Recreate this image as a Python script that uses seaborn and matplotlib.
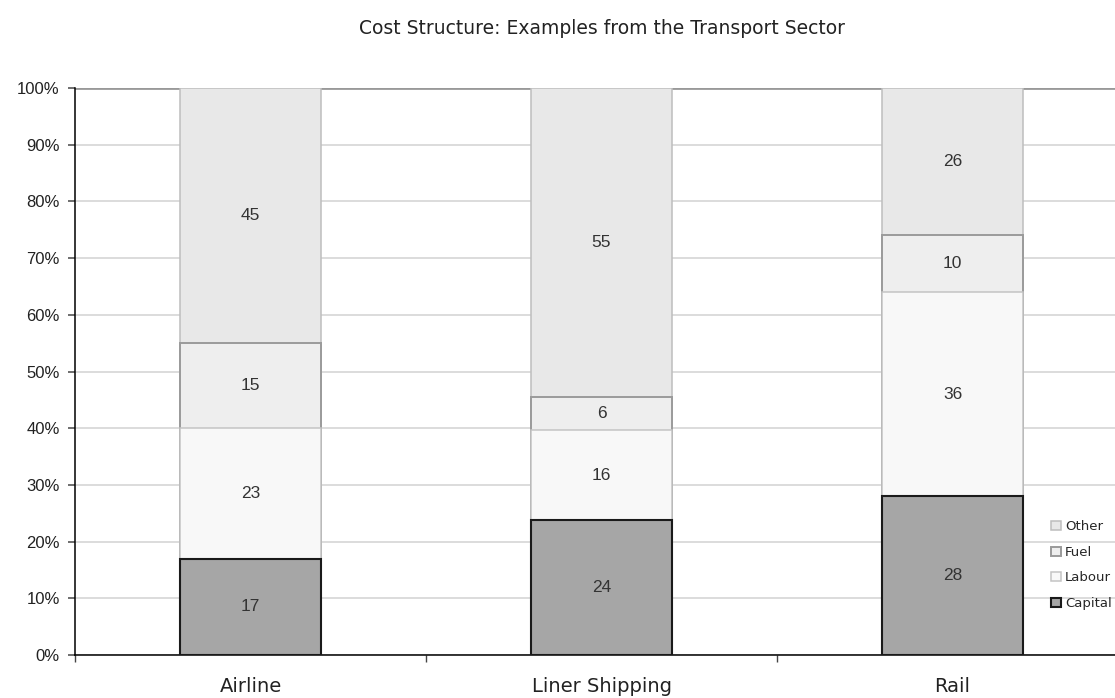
import numpy as np
import matplotlib
matplotlib.use("Agg")
import matplotlib.pyplot as plt
from matplotlib.ticker import FixedLocator, PercentFormatter
import seaborn as sns

# Cost shares by sector (raw figures; each bar is scaled to 100%)
categories = ["Airline", "Liner Shipping", "Rail"]
capital = [17, 24, 28]
labour = [23, 16, 36]
fuel = [15, 6, 10]
other = [45, 55, 26]

series_names = ["Capital", "Labour", "Fuel", "Other"]
series_values = [capital, labour, fuel, other]
face_colors = ["#a6a6a6", "#f8f8f8", "#eeeeee", "#e8e8e8"]
edge_colors = ["#1a1a1a", "#c4c4c4", "#9a9a9a", "#bdbdbd"]
edge_widths = [1.5, 1.1, 1.4, 1.1]

sns.set_theme(style="white")
plt.rcParams["font.family"] = ["Liberation Sans", "DejaVu Sans"]

fig = plt.figure(figsize=(11.15, 6.98), dpi=100)
ax = fig.add_axes([75 / 1115, 43 / 698, 1053 / 1115, 567 / 698])

vals = np.array(series_values, dtype=float)
totals = vals.sum(axis=0)
shares = vals / totals * 100.0
cum = np.cumsum(shares, axis=0)

# Stacked bars: draw cumulative heights from the top series down
for i in reversed(range(len(series_names))):
    sns.barplot(x=categories, y=cum[i], color=face_colors[i], saturation=1,
                width=0.4, edgecolor=edge_colors[i], linewidth=edge_widths[i],
                label=series_names[i], ax=ax, zorder=3)

# Value labels centred in each segment
for i in range(len(series_names)):
    for j in range(len(categories)):
        mid = cum[i, j] - shares[i, j] / 2
        ax.text(j, mid, f"{series_values[i][j]:g}", ha="center", va="center",
                fontsize=12.5, color="#333333", zorder=5,
                family=["Liberation Sans", "DejaVu Sans"])

ax.set_ylim(0, 100)
ax.set_xlim(-0.5, 2.5)
ax.yaxis.set_major_locator(FixedLocator(np.arange(0, 101, 10)))
ax.yaxis.set_major_formatter(PercentFormatter(decimals=0))
ax.grid(axis="y", color="#d9d9d9", linewidth=1.3, zorder=0)
ax.grid(axis="x", visible=False)
ax.set_axisbelow(True)
ax.axhline(100, color="#999999", linewidth=2, zorder=1)

for side in ["top", "right"]:
    ax.spines[side].set_visible(False)
for side in ["left", "bottom"]:
    ax.spines[side].set_color("black")
    ax.spines[side].set_linewidth(1.1)

ax.set_xlabel("")
ax.set_ylabel("")
ax.tick_params(axis="y", which="major", direction="out", length=5, width=1.2,
               color="#555555", pad=6, labelsize=12, labelcolor="#222222", left=True)
ax.tick_params(axis="x", which="major", length=0, pad=16, labelsize=14,
               labelcolor="#222222")
for lbl in ax.get_xticklabels():
    lbl.set_family("DejaVu Sans")
ax.xaxis.set_minor_locator(FixedLocator([-0.5, 0.5, 1.5, 2.5]))
ax.tick_params(axis="x", which="minor", direction="out", length=5, width=1,
               color="#444444", bottom=True)

fig.text(0.54, 1 - 28 / 698, "Cost Structure: Examples from the Transport Sector",
         ha="center", va="center", fontsize=13.5, color="#222222",
         family="DejaVu Sans")

handles, labels = ax.get_legend_handles_labels()
leg = ax.legend(handles, labels, loc="upper left",
                bbox_to_anchor=(1046 / 1115, 1 - 515 / 698), bbox_transform=fig.transFigure,
                frameon=False, prop={"family": "DejaVu Sans", "size": 9.5},
                handlelength=0.7, handleheight=0.7,
                handletextpad=0.35, labelspacing=0.95, borderaxespad=0)

fig.savefig("out.png", dpi=100)
